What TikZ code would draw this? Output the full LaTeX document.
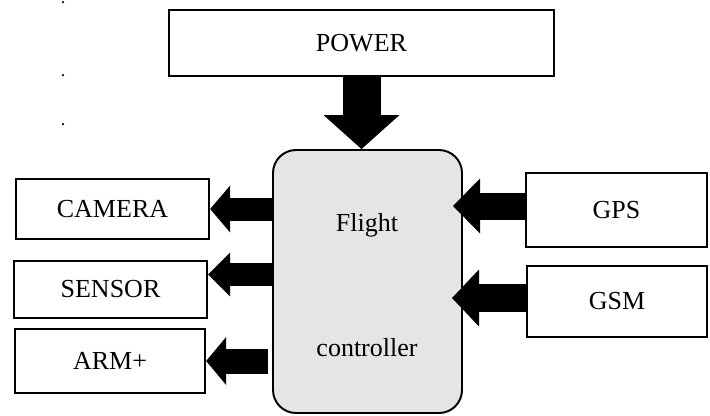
\documentclass[tikz,border=0pt]{standalone}
\usepackage{fontspec}
\setmainfont{Liberation Serif}
\usetikzlibrary{arrows.meta}
\colorlet{fcfill}{black!10}

\tikzset{
  unitbox/.style={draw, line width=1.3pt, inner sep=0pt},
  dotmark/.style={circle, fill, inner sep=0pt, minimum size=0.05cm},
  % fat block arrow: shaft width, head length, head width
  blockarrow/.style n args={3}{line width=#1,
    -{Triangle[length=#2, width=#3, line width=0pt]}},
}

\begin{document}
\begin{tikzpicture}[font=\fontsize{14.8}{17}\selectfont]
  \useasboundingbox (0,0) rectangle (14.2,-8.3);

  % stray dots on the left margin
  \foreach \y [count=\i] in {0.04,1.5,2.48}
    \node[dotmark] (dot\i) at (1.26,-\y) {};

  % power supply and the flight controller below it
  \node[unitbox, minimum width=7.7cm, minimum height=1.32cm] (power) at (7.23,-0.86) {POWER};
  \node[draw, line width=1.1pt, rounded corners=0.46cm, fill=fcfill,
        minimum width=3.78cm, minimum height=5.26cm] (fc) at (7.35,-5.63) {};
  \node (flight) at (7.34,-4.5) {Flight};
  \node (ctrl) at (7.34,-6.95) {controller};

  % outputs on the left
  \node[unitbox, minimum width=3.86cm, minimum height=1.2cm] (camera) at (2.25,-4.18) {CAMERA};
  \node[unitbox, minimum width=3.86cm, minimum height=1.14cm] (sensor) at (2.21,-5.79) {SENSOR};
  \node[unitbox, minimum width=3.8cm, minimum height=1.28cm] (arm) at (2.2,-7.22) {ARM+};

  % inputs on the right
  \node[unitbox, minimum width=3.62cm, minimum height=1.48cm] (gps) at (12.33,-4.2) {GPS};
  \node[unitbox, minimum width=3.6cm, minimum height=1.42cm] (gsm) at (12.34,-6.03) {GSM};

  % where the arrows meet the boxes off centre
  \coordinate (sensortap) at (0,-5.49);
  \coordinate (gpsin) at (9.06,-4.12);
  \coordinate (gsmin) at (9.04,-5.96);

  \draw[blockarrow={0.76cm}{0.68cm}{1.52cm}] (power.south) -- (power.south |- fc.north);

  \draw[blockarrow={0.46cm}{0.4cm}{0.94cm}] (fc.west |- camera.east) -- (camera.east);
  \draw[blockarrow={0.46cm}{0.44cm}{0.88cm}] (fc.west |- sensortap) -- (sensor.east |- sensortap);
  \draw[blockarrow={0.5cm}{0.4cm}{0.96cm}, shorten <=0.08cm] (fc.west |- arm.east) -- (arm.east);

  \draw[blockarrow={0.54cm}{0.54cm}{1.1cm}] (gps.west |- gpsin) -- (gpsin);
  \draw[blockarrow={0.56cm}{0.54cm}{1.14cm}] (gsm.west |- gsmin) -- (gsmin);
\end{tikzpicture}
\end{document}
